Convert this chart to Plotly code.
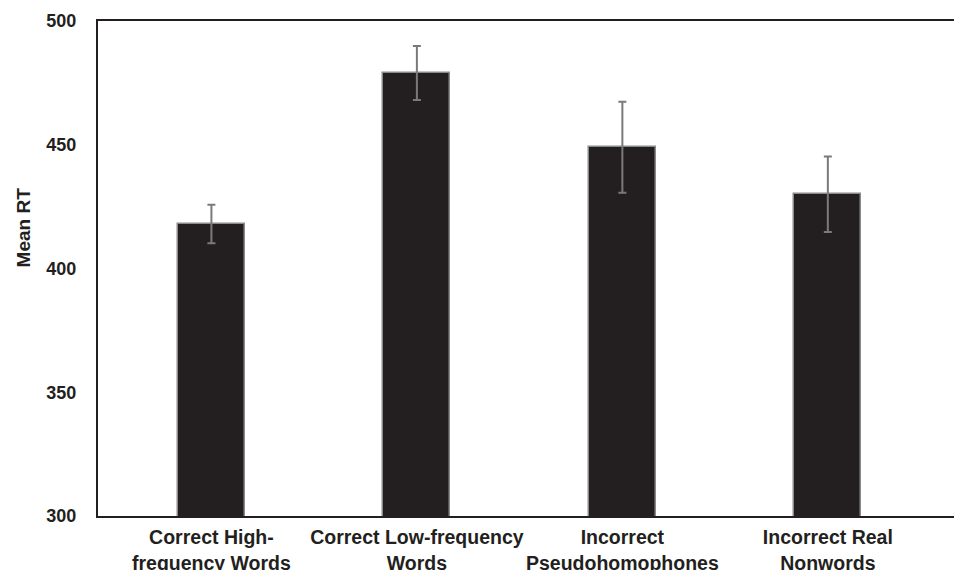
import plotly.graph_objects as go

categories = ["Correct High-<br>frequency Words", "Correct Low-frequency<br>Words",
              "Incorrect<br>Pseudohomophones", "Incorrect Real<br>Nonwords"]
mean_rt = [418, 479, 449, 430]
err = [7.8, 10.9, 18.4, 15.3]
y_ticks = [300, 350, 400, 450, 500]

dark = "#231f20"
fig = go.Figure()
fig.add_trace(go.Bar(
    x=list(range(len(categories))), y=mean_rt, width=0.326,
    marker=dict(color=dark, line=dict(color="#8a8a8a", width=1.5)),
    error_y=dict(type="data", array=err, visible=True, color="#7a7a7a", thickness=2, width=4),
))
fig.add_annotation(text="<b>Mean RT</b>", textangle=-90, xref="paper", yref="paper",
                   x=-0.087, y=0.582, xanchor="center", yanchor="middle", showarrow=False,
                   font=dict(family="Liberation Sans, Arial", size=19, color=dark))
fig.update_layout(
    width=954, height=570, margin=dict(l=98, r=0, t=21, b=54, autoexpand=False),
    plot_bgcolor="white", paper_bgcolor="white", showlegend=False,
    font=dict(family="Liberation Sans, Arial", color=dark),
    bargap=0,
)
fig.update_xaxes(range=[-0.552, 3.614], tickmode="array", tickvals=list(range(len(categories))),
                 ticktext=["<b>" + c.replace("<br>", "</b><br><b>") + "</b>" for c in categories],
                 showline=True, linecolor=dark, linewidth=2, mirror=True, ticks="",
                 showgrid=False, zeroline=False, tickfont=dict(size=19.5, color=dark),
                 ticklabelstandoff=3, automargin=False)
fig.update_yaxes(range=[300, 500], tickmode="array", tickvals=y_ticks,
                 ticktext=["<b>%d</b>" % v for v in y_ticks],
                 showline=True, linecolor=dark, linewidth=2, ticks="", showgrid=False,
                 zeroline=False, tickfont=dict(size=18, color=dark), ticklabelstandoff=16,
                 automargin=False)
fig.write_html("out.html", config={"displayModeBar": False},
               post_script="document.body.style.margin='0';document.body.style.overflow='hidden';")
